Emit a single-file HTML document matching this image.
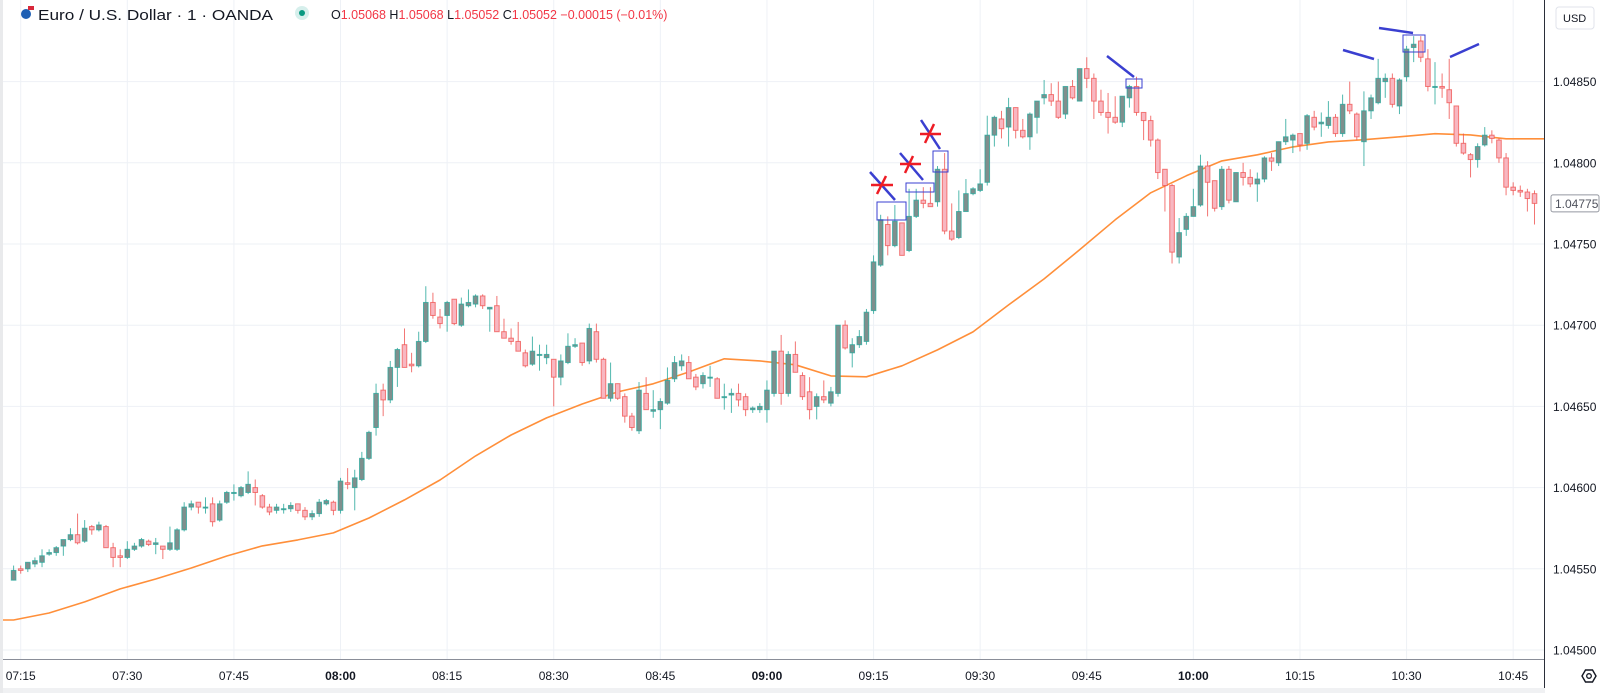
<!DOCTYPE html>
<html><head><meta charset="utf-8"><style>
html,body{margin:0;padding:0;background:#fff;}
svg{display:block;font-family:"Liberation Sans",sans-serif;}
</style></head><body>
<svg id="chart" width="1616" height="693" viewBox="0 0 1616 693" xmlns="http://www.w3.org/2000/svg">
<rect x="0" y="0" width="1616" height="693" fill="#ffffff"/>
<g id="grid"></g>
<g id="ma"></g>
<g id="candles"></g>
<g id="annot">
 <line x1="870" y1="172" x2="895" y2="200" stroke="#3a3fd0" stroke-width="2.5"/>
 <rect x="877" y="202" width="29" height="18" fill="none" stroke="#3a3fd0" stroke-width="1"/>
 <line x1="871" y1="185" x2="893" y2="185" stroke="#ee1c25" stroke-width="2.5"/>
 <line x1="877" y1="194" x2="886" y2="176" stroke="#ee1c25" stroke-width="2.5"/>
 <line x1="900" y1="153" x2="923" y2="180" stroke="#3a3fd0" stroke-width="2.5"/>
 <rect x="906" y="183" width="28" height="9" fill="none" stroke="#3a3fd0" stroke-width="1"/>
 <line x1="900" y1="164" x2="921" y2="164" stroke="#ee1c25" stroke-width="2.5"/>
 <line x1="905" y1="173" x2="913" y2="156" stroke="#ee1c25" stroke-width="2.5"/>
 <line x1="921" y1="120" x2="940" y2="149" stroke="#3a3fd0" stroke-width="2.5"/>
 <rect x="933" y="151" width="15" height="21" fill="none" stroke="#3a3fd0" stroke-width="1"/>
 <line x1="920" y1="134" x2="941" y2="134" stroke="#ee1c25" stroke-width="2.5"/>
 <line x1="925" y1="143" x2="934" y2="124" stroke="#ee1c25" stroke-width="2.5"/>
 <line x1="1107" y1="56" x2="1134" y2="77" stroke="#3a3fd0" stroke-width="2.5"/>
 <rect x="1126" y="79" width="16" height="9" fill="none" stroke="#3a3fd0" stroke-width="1"/>
 <line x1="1343" y1="50" x2="1374" y2="59" stroke="#3a3fd0" stroke-width="2.5"/>
 <line x1="1379" y1="28" x2="1413" y2="33" stroke="#3a3fd0" stroke-width="2.5"/>
 <rect x="1403" y="35" width="22" height="17" fill="none" stroke="#3a3fd0" stroke-width="1"/>
 <line x1="1450" y1="57" x2="1479" y2="44" stroke="#3a3fd0" stroke-width="2.5"/>
</g>
<g id="axes">
 <rect x="1545" y="0" width="71" height="693" fill="#ffffff"/>
 <rect x="0" y="660" width="1545" height="33" fill="#ffffff"/>
 <line x1="0" y1="659.5" x2="1545" y2="659.5" stroke="#8a8e99" stroke-width="1"/>
 <line x1="1544.5" y1="0" x2="1544.5" y2="693" stroke="#2a2e39" stroke-width="1"/>
 <rect x="0" y="688" width="1545" height="5" fill="#f0f1f3"/>
 <rect x="0" y="0" width="3" height="693" fill="#e9eaec"/>
</g>
<g id="ylabels"></g>
<g id="xlabels"></g>
<g>
 <rect x="1556" y="7" width="38" height="22" rx="3" fill="#ffffff" stroke="#e0e3eb"/>
 <text x="1563" y="22" font-size="11" fill="#131722">USD</text>
</g>
<g id="lastprice"></g>
<g transform="translate(1589,676)">
 <polygon points="-7,0 -3.5,-6 3.5,-6 7,0 3.5,6 -3.5,6" fill="none" stroke="#131722" stroke-width="1.4"/>
 <circle cx="0" cy="0" r="2.3" fill="none" stroke="#131722" stroke-width="1.3"/>
</g>
<g>
 <circle cx="26" cy="14" r="5" fill="#1e5fb4"/>
 <rect x="28" y="6" width="6" height="4" fill="#d8283a"/>
 <text x="38" y="20" font-size="15" fill="#131722" textLength="235" lengthAdjust="spacingAndGlyphs">Euro / U.S. Dollar · 1 · OANDA</text>
 <circle cx="302" cy="13" r="7" fill="#d6efec"/>
 <circle cx="302" cy="13" r="3" fill="#089981"/>
 <text x="331" y="19" font-size="12.5" fill="#f23645"><tspan fill="#131722">O</tspan>1.05068 <tspan fill="#131722">H</tspan>1.05068 <tspan fill="#131722">L</tspan>1.05052 <tspan fill="#131722">C</tspan>1.05052 −0.00015 (−0.01%)</text>
</g>
</svg>
<script>
const opens=[1.04543,1.04550,1.04550,1.04553,1.04554,1.04559,1.04560,1.04564,1.04568,1.04571,
1.04567,1.04576,1.04574,1.04576,1.04563,1.04558,1.04557,1.04562,1.04564,1.04567,
1.04565,1.04564,1.04562,1.04562,1.04574,1.04588,1.04591,1.04588,1.04590,1.04580,
1.04591,1.04597,1.04595,1.04597,1.04600,1.04595,1.04588,1.04586,1.04587,1.04587,
1.04590,1.04586,1.04582,1.04584,1.04590,1.04591,1.04586,1.04603,1.04600,1.04605,
1.04618,1.04637,1.04660,1.04654,1.04674,1.04688,1.04676,1.04675,1.04690,1.04714,
1.04705,1.04706,1.04716,1.04700,1.04712,1.04713,1.04718,1.04710,1.04712,1.04696,
1.04692,1.04690,1.04683,1.04676,1.04682,1.04680,1.04679,1.04668,1.04677,1.04687,
1.04689,1.04678,1.04696,1.04679,1.04655,1.04664,1.04656,1.04644,1.04635,1.04658,
1.04647,1.04648,1.04652,1.04667,1.04675,1.04677,1.04668,1.04664,1.04668,1.04667,
1.04656,1.04657,1.04658,1.04656,1.04648,1.04648,1.04648,1.04658,1.04684,1.04658,
1.04682,1.04669,1.04659,1.04650,1.04656,1.04652,1.04658,1.04700,1.04683,1.04688,
1.04690,1.04709,1.04737,1.04762,1.04749,1.04763,1.04746,1.04767,1.04777,1.04775,
1.04776,1.04796,1.04758,1.04754,1.04770,1.04781,1.04783,1.04788,1.04817,1.04827,
1.04822,1.04834,1.04820,1.04816,1.04828,1.04840,1.04842,1.04838,1.04830,1.04847,
1.04838,1.04858,1.04852,1.04838,1.04831,1.04828,1.04825,1.04840,1.04847,1.04831,
1.04826,1.04814,1.04796,1.04786,1.04742,1.04759,1.04767,1.04774,1.04798,1.04789,
1.04773,1.04796,1.04776,1.04794,1.04791,1.04787,1.04790,1.04803,1.04800,1.04813,
1.04814,1.04818,1.04812,1.04828,1.04824,1.04823,1.04828,1.04818,1.04836,1.04830,
1.04813,1.04832,1.04837,1.04850,1.04852,1.04835,1.04853,1.04871,1.04875,1.04864,
1.04847,1.04847,1.04845,1.04835,1.04812,1.04805,1.04802,1.04811,1.04817,1.04814,
1.04803,1.04785,1.04783,1.04782,1.04781];
const highs=[1.04552,1.04552,1.04554,1.04557,1.04562,1.04562,1.04564,1.04568,1.04575,1.04584,
1.04580,1.04577,1.04579,1.04577,1.04566,1.04562,1.04567,1.04566,1.04569,1.04568,
1.04569,1.04564,1.04576,1.04575,1.04591,1.04592,1.04591,1.04594,1.04594,1.04592,
1.04598,1.04602,1.04601,1.04610,1.04605,1.04596,1.04590,1.04590,1.04590,1.04591,
1.04590,1.04588,1.04586,1.04593,1.04593,1.04592,1.04606,1.04612,1.04611,1.04622,
1.04635,1.04664,1.04664,1.04678,1.04686,1.04698,1.04683,1.04696,1.04724,1.04720,
1.04710,1.04715,1.04716,1.04717,1.04722,1.04719,1.04719,1.04711,1.04718,1.04704,
1.04698,1.04702,1.04685,1.04693,1.04688,1.04688,1.04679,1.04682,1.04695,1.04692,
1.04689,1.04701,1.04701,1.04680,1.04677,1.04664,1.04658,1.04646,1.04665,1.04668,
1.04660,1.04655,1.04674,1.04681,1.04682,1.04681,1.04670,1.04671,1.04675,1.04668,
1.04664,1.04661,1.04664,1.04658,1.04650,1.04652,1.04666,1.04684,1.04694,1.04684,
1.04690,1.04671,1.04668,1.04658,1.04666,1.04662,1.04700,1.04703,1.04692,1.04697,
1.04710,1.04743,1.04768,1.04767,1.04774,1.04763,1.04784,1.04784,1.04785,1.04785,
1.04798,1.04806,1.04775,1.04783,1.04790,1.04785,1.04796,1.04829,1.04829,1.04832,
1.04840,1.04834,1.04827,1.04831,1.04838,1.04851,1.04849,1.04850,1.04847,1.04851,
1.04858,1.04865,1.04855,1.04845,1.04843,1.04841,1.04841,1.04848,1.04853,1.04831,
1.04829,1.04815,1.04796,1.04787,1.04766,1.04769,1.04784,1.04805,1.04801,1.04789,
1.04798,1.04798,1.04794,1.04800,1.04796,1.04794,1.04804,1.04806,1.04813,1.04827,
1.04818,1.04818,1.04830,1.04832,1.04831,1.04838,1.04830,1.04842,1.04850,1.04831,
1.04844,1.04842,1.04864,1.04855,1.04855,1.04852,1.04872,1.04878,1.04878,1.04870,
1.04862,1.04855,1.04864,1.04835,1.04818,1.04806,1.04812,1.04822,1.04820,1.04815,
1.04806,1.04788,1.04786,1.04784,1.04783];
const lows=[1.04543,1.04547,1.04548,1.04551,1.04551,1.04558,1.04558,1.04558,1.04567,1.04565,
1.04566,1.04571,1.04573,1.04563,1.04551,1.04551,1.04556,1.04561,1.04563,1.04564,
1.04559,1.04556,1.04561,1.04561,1.04573,1.04586,1.04584,1.04584,1.04576,1.04579,
1.04590,1.04592,1.04594,1.04596,1.04589,1.04587,1.04583,1.04584,1.04584,1.04585,
1.04584,1.04580,1.04580,1.04582,1.04589,1.04583,1.04584,1.04599,1.04586,1.04604,
1.04617,1.04632,1.04644,1.04652,1.04662,1.04674,1.04671,1.04674,1.04689,1.04704,
1.04698,1.04696,1.04700,1.04699,1.04711,1.04711,1.04710,1.04696,1.04696,1.04692,
1.04688,1.04684,1.04674,1.04675,1.04672,1.04676,1.04650,1.04663,1.04676,1.04686,
1.04675,1.04676,1.04677,1.04655,1.04653,1.04654,1.04640,1.04635,1.04633,1.04648,
1.04643,1.04636,1.04651,1.04665,1.04672,1.04667,1.04660,1.04661,1.04662,1.04655,
1.04648,1.04646,1.04650,1.04644,1.04646,1.04646,1.04640,1.04656,1.04651,1.04656,
1.04671,1.04654,1.04642,1.04642,1.04652,1.04650,1.04656,1.04685,1.04674,1.04686,
1.04688,1.04707,1.04736,1.04743,1.04748,1.04743,1.04745,1.04766,1.04772,1.04773,
1.04773,1.04756,1.04752,1.04753,1.04770,1.04780,1.04782,1.04786,1.04810,1.04815,
1.04810,1.04815,1.04815,1.04808,1.04818,1.04836,1.04835,1.04827,1.04827,1.04839,
1.04838,1.04846,1.04827,1.04829,1.04818,1.04824,1.04822,1.04834,1.04829,1.04814,
1.04810,1.04790,1.04770,1.04738,1.04738,1.04755,1.04767,1.04773,1.04767,1.04770,
1.04771,1.04775,1.04776,1.04786,1.04785,1.04776,1.04788,1.04795,1.04798,1.04811,
1.04806,1.04807,1.04808,1.04820,1.04816,1.04821,1.04816,1.04816,1.04830,1.04814,
1.04798,1.04827,1.04836,1.04840,1.04834,1.04830,1.04850,1.04862,1.04862,1.04844,
1.04836,1.04840,1.04827,1.04810,1.04805,1.04791,1.04797,1.04810,1.04812,1.04800,
1.04780,1.04780,1.04779,1.04770,1.04762];
const closes=[1.04549,1.04549,1.04554,1.04555,1.04558,1.04560,1.04563,1.04568,1.04571,1.04566,
1.04575,1.04574,1.04577,1.04563,1.04557,1.04557,1.04562,1.04564,1.04568,1.04565,
1.04566,1.04562,1.04566,1.04574,1.04588,1.04590,1.04588,1.04588,1.04579,1.04590,
1.04597,1.04597,1.04600,1.04602,1.04597,1.04588,1.04585,1.04588,1.04587,1.04589,
1.04586,1.04582,1.04584,1.04591,1.04592,1.04586,1.04604,1.04602,1.04606,1.04618,
1.04634,1.04658,1.04654,1.04674,1.04685,1.04674,1.04675,1.04690,1.04714,1.04706,
1.04701,1.04714,1.04701,1.04713,1.04714,1.04718,1.04712,1.04711,1.04696,1.04692,
1.04690,1.04684,1.04675,1.04684,1.04682,1.04682,1.04668,1.04678,1.04687,1.04688,
1.04677,1.04698,1.04679,1.04655,1.04664,1.04655,1.04644,1.04637,1.04660,1.04648,
1.04648,1.04653,1.04666,1.04677,1.04678,1.04667,1.04662,1.04669,1.04668,1.04655,
1.04656,1.04658,1.04654,1.04648,1.04649,1.04650,1.04660,1.04684,1.04658,1.04682,
1.04671,1.04656,1.04648,1.04656,1.04654,1.04659,1.04700,1.04686,1.04688,1.04693,
1.04708,1.04739,1.04765,1.04749,1.04764,1.04743,1.04767,1.04777,1.04775,1.04773,
1.04796,1.04758,1.04753,1.04770,1.04781,1.04784,1.04787,1.04817,1.04828,1.04821,
1.04834,1.04820,1.04816,1.04830,1.04838,1.04842,1.04838,1.04828,1.04847,1.04840,
1.04858,1.04852,1.04838,1.04831,1.04828,1.04825,1.04841,1.04847,1.04831,1.04826,
1.04814,1.04794,1.04786,1.04745,1.04757,1.04767,1.04773,1.04798,1.04788,1.04772,
1.04796,1.04777,1.04794,1.04791,1.04787,1.04790,1.04803,1.04801,1.04813,1.04816,
1.04817,1.04811,1.04829,1.04822,1.04825,1.04828,1.04818,1.04836,1.04832,1.04816,
1.04832,1.04840,1.04852,1.04852,1.04836,1.04851,1.04870,1.04873,1.04865,1.04847,
1.04847,1.04846,1.04837,1.04812,1.04806,1.04802,1.04810,1.04817,1.04815,1.04803,
1.04785,1.04783,1.04782,1.04778,1.04775];
const maIndex=[0,5,10,15,20,25,30,35,40,45,50,55,60,65,70,75,80,85,90,95,100,105,110,115,120,125,130,135,140,145,150,155,160,165,170,175,180,185,190,195,200,205,210,214];
const maValues=[1.045185,1.045228,1.045296,1.045376,1.045437,1.045505,1.045579,1.045641,1.045678,1.045721,1.045813,1.045924,1.046047,1.046195,1.046324,1.046429,1.046515,1.046589,1.046639,1.046712,1.046793,1.046780,1.046756,1.046688,1.046682,1.046750,1.046848,1.046959,1.047125,1.047285,1.047464,1.047649,1.047815,1.047920,1.048012,1.048049,1.048098,1.048129,1.048142,1.048160,1.048179,1.048172,1.048148,1.048148];
const priceTicks=[1.04500,1.04550,1.04600,1.04650,1.04700,1.04750,1.04800,1.04850];
const timeTickIndex=[1,16,31,46,61,76,91,106,121,136,151,166,181,196,211];
const timeTickLabels=["07:15","07:30","07:45","08:00","08:15","08:30","08:45","09:00","09:15","09:30","09:45","10:00","10:15","10:30","10:45"];
const boldTimes=["08:00","09:00","10:00"];

const NS="http://www.w3.org/2000/svg";
function xOf(i){return 13.6+7.107*i;}
function yOf(p){return 650-(p-1.045)*162400;}
function mk(tag,attrs,parent){const e=document.createElementNS(NS,tag);for(const k in attrs)e.setAttribute(k,attrs[k]);parent.appendChild(e);return e;}

const grid=document.getElementById('grid');
priceTicks.forEach(function(p){
  const l=mk('line',{x1:0,x2:1544,y1:yOf(p),y2:yOf(p),stroke:'#eef1f6','stroke-width':1},grid);
  
  
});
timeTickIndex.forEach(function(i){
  const l=mk('line',{x1:xOf(i),x2:xOf(i),y1:0,y2:659,stroke:'#eef1f6','stroke-width':1},grid);
  
  
});

const ma=document.getElementById('ma');
let d='M0,'+yOf(maValues[0]).toFixed(1);
maIndex.forEach(function(i,k){d+=' L'+xOf(i).toFixed(1)+','+yOf(maValues[k]).toFixed(1);});
d+=' L1544,'+yOf(maValues[maValues.length-1]).toFixed(1);
const maPath=mk('path',{d:d,fill:'none',stroke:'#ff8f3a','stroke-width':1.6,'stroke-linejoin':'round'},ma);



const cg=document.getElementById('candles');
for(let i=0;i<closes.length;i++){
  const up=closes[i]>=opens[i];
  const x=xOf(i);
  const g=mk('g',{},cg);
  
  
  const w=mk('line',{x1:x,x2:x,y1:yOf(highs[i]),y2:yOf(lows[i]),stroke:up?'#26a69a':'#ef5350','stroke-width':1,'stroke-opacity':0.8},g);
  
  
  const top=yOf(Math.max(opens[i],closes[i])),bot=yOf(Math.min(opens[i],closes[i]));
  const b=mk('rect',{x:x-2.3,y:top,width:4.6,height:Math.max(1,bot-top),fill:up?'#7f8f8d':'#f8b7c1',stroke:up?'#26a69a':'#ef5350','stroke-width':1,'stroke-opacity':0.75},g);
  
  
}

const yl=document.getElementById('ylabels');
priceTicks.forEach(function(p){
  const t=mk('text',{x:1553,y:yOf(p)+4.5,'font-size':12,fill:'#131722'},yl);
  t.textContent=p.toFixed(5);
  
  
});
const xl=document.getElementById('xlabels');
timeTickIndex.forEach(function(i,k){
  const lab=timeTickLabels[k];
  const t=mk('text',{x:xOf(i),y:680,'font-size':12,fill:'#131722','text-anchor':'middle','font-weight':boldTimes.indexOf(lab)>=0?'bold':'normal'},xl);
  t.textContent=lab;
  
  
});

const lp=document.getElementById('lastprice');
const last=closes[closes.length-1];
const ly=yOf(last);
const r=mk('rect',{x:1551,y:ly-8.5,width:48,height:17,fill:'#ffffff',stroke:'#9598a1','stroke-width':1,rx:2},lp);


const lt=mk('text',{x:1555,y:ly+4.5,'font-size':12,fill:'#50535e'},lp);
lt.textContent=last.toFixed(5);


</script>
</body></html>
